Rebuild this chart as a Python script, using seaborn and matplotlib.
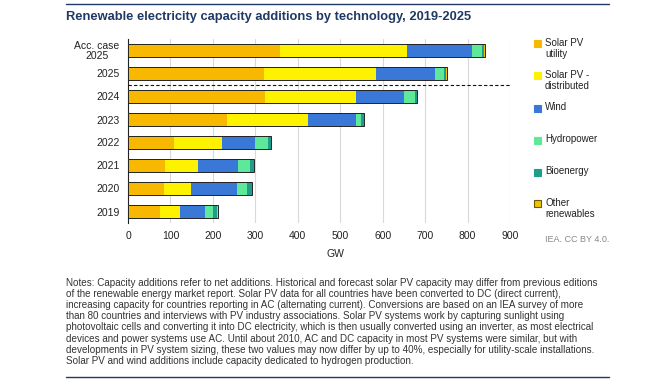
import matplotlib
matplotlib.use("Agg")
import matplotlib.pyplot as plt
import seaborn as sns
import pandas as pd
import numpy as np
from matplotlib.patches import Rectangle

sns.set_theme(style="white")
plt.rcParams['font.family'] = ['Liberation Sans', 'DejaVu Sans']

categories = ["Acc. case\n2025", "2025", "2024", "2023", "2022", "2021", "2020", "2019"]
solar_utility = [359, 321, 323, 234, 109, 88, 85, 75]
solar_distributed = [298, 263, 214, 189, 113, 77, 64, 47]
wind = [154, 139, 114, 115, 77, 95, 108, 59]
hydropower = [23, 22, 25, 11, 31, 27, 23, 19]
bioenergy = [5, 5, 5, 7, 7, 10, 11, 10]
other = [1, 1, 1, 1, 1, 1, 1, 1]

series_names = ["Solar PV\nutility", "Solar PV -\ndistributed", "Wind", "Hydropower",
                "Bioenergy", "Other\nrenewables"]
series_vals = [solar_utility, solar_distributed, wind, hydropower, bioenergy, other]
colors = ["#F8B800", "#FFF200", "#3A78D8", "#5EE89A", "#1E9E8A", "#F2C200"]
edges = ["#F8B800", "#FFF200", "#3A78D8", "#5EE89A", "#1E9E8A", "#6b5a00"]

BAR_W = 0.6

fig = plt.figure(figsize=(6.5, 3.85), dpi=100)
ax = fig.add_axes([128/650, 1 - 223/385, (510 - 128)/650, (223 - 39)/385])

n = len(categories)
left = np.zeros(n)
cum = []
for vals in series_vals:
    left = left + np.array(vals)
    cum.append(left.copy())

# draw cumulative totals back to front so each segment shows its own value
for k in range(len(series_vals) - 1, -1, -1):
    df = pd.DataFrame({"cat": categories, "val": cum[k]})
    sns.barplot(data=df, y="cat", x="val", color=colors[k], orient="h", ax=ax,
                width=BAR_W, edgecolor="none", linewidth=0, saturation=1, zorder=3)

totals = cum[-1]
for i, t in enumerate(totals):
    ax.add_patch(Rectangle((0, i - BAR_W / 2), t, BAR_W, fill=False,
                           edgecolor="#222222", linewidth=0.7, zorder=20))

ax.set_xlim(0, 900)
ax.set_ylim(n - 0.5, -0.5)
ax.set_xticks(np.arange(0, 901, 100))
ax.tick_params(axis="x", labelsize=7.5, colors="#222222", length=0, pad=6)
ax.tick_params(axis="y", labelsize=7.5, colors="#222222", length=0, pad=6)
ax.set_ylabel("")
ax.set_xlabel("GW", fontsize=7.5, color="#222222")
ax.xaxis.set_label_coords((335 - 128) / (510 - 128), -0.14)
ax.grid(axis="x", color="#d9d9d9", linewidth=0.8, zorder=0)
ax.set_axisbelow(True)
for s in ["top", "right", "bottom"]:
    ax.spines[s].set_visible(False)
ax.spines["left"].set_color("#222222")
ax.spines["left"].set_linewidth(0.8)
for lab in ax.get_yticklabels():
    lab.set_horizontalalignment("right")
    lab.set_multialignment("center")
    lab.set_linespacing(1.0)

ax.hlines(1.5, 0, 900, colors="#111111", linestyles=(0, (3, 2)), linewidth=0.8, zorder=25)

# legend (manual layout to match spacing)
leg_y = [43, 75, 108, 140, 172, 203]
for name, c, e, y in zip(series_names, colors, edges, leg_y):
    fig.add_artist(Rectangle((534/650, 1 - (y + 3.5)/385), 7/650, 7/385, facecolor=c,
                             edgecolor=e, linewidth=0.8, transform=fig.transFigure))
    fig.text(545/650, 1 - (y - 5.5)/385, name, fontsize=7, color="#222222",
             ha="left", va="top", linespacing=1.15)

fig.add_artist(plt.Line2D([66/650, 609/650], [1 - 4/385, 1 - 4/385], color="#1F3864", linewidth=1.0))
fig.text(66/650, 1 - 17/385, "Renewable electricity capacity additions by technology, 2019-2025",
         fontsize=9.3, fontweight="bold", color="#1F3864", va="center", ha="left")
fig.text(609/650, 1 - 239/385, "IEA. CC BY 4.0.", fontsize=6.5, color="#888888", ha="right", va="center")

notes = ("Notes: Capacity additions refer to net additions. Historical and forecast solar PV capacity may differ from previous editions\n"
         "of the renewable energy market report. Solar PV data for all countries have been converted to DC (direct current),\n"
         "increasing capacity for countries reporting in AC (alternating current). Conversions are based on an IEA survey of more\n"
         "than 80 countries and interviews with PV industry associations. Solar PV systems work by capturing sunlight using\n"
         "photovoltaic cells and converting it into DC electricity, which is then usually converted using an inverter, as most electrical\n"
         "devices and power systems use AC. Until about 2010, AC and DC capacity in most PV systems were similar, but with\n"
         "developments in PV system sizing, these two values may now differ by up to 40%, especially for utility-scale installations.\n"
         "Solar PV and wind additions include capacity dedicated to hydrogen production.")
fig.text(66/650, 1 - 278/385, notes, fontsize=7.1, color="#333333", ha="left", va="top", linespacing=1.14)
fig.add_artist(plt.Line2D([66/650, 609/650], [1 - 377/385, 1 - 377/385], color="#1F3864", linewidth=1.0))

fig.savefig("out.png", dpi=100)
